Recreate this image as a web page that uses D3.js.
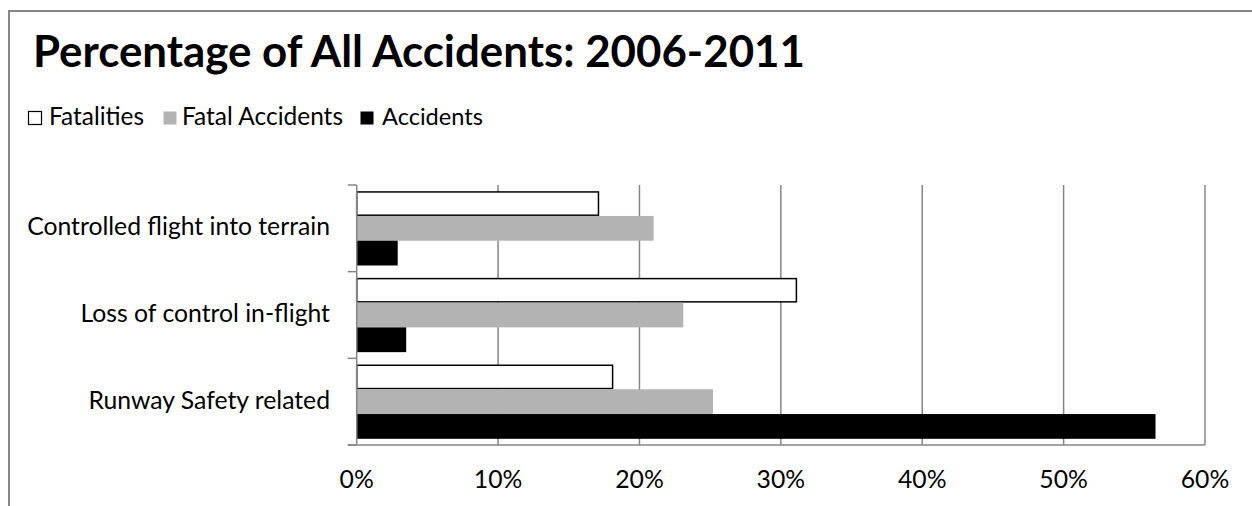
<!DOCTYPE html>
<html>
<head>
<meta charset="utf-8">
<script src="https://cdn.jsdelivr.net/npm/d3@7"></script>
<style>
  html, body { margin: 0; padding: 0; background: #fff; }
  svg { display: block; }
  text { font-family: Lato, "Open Sans", sans-serif; fill: #000; }
</style>
</head>
<body>
<svg id="chart" width="1252" height="506"></svg>
<script>
// Accident categories, top to bottom
const categories = ["Controlled flight into terrain", "Loss of control in-flight", "Runway Safety related"];
// Series names, drawn top to bottom inside each category
const seriesNames = ["Fatalities", "Fatal Accidents", "Accidents"];
// Percentages per category, one array per series
const fatalities     = [17.1, 31.1, 18.1];
const fatalAccidents = [21.0, 23.1, 25.2];
const accidents      = [2.9, 3.5, 56.5];
// X axis ticks (percent)
const xTicks = [0, 10, 20, 30, 40, 50, 60];

const seriesValues = [fatalities, fatalAccidents, accidents];
const fills   = ["#ffffff", "#b3b3b3", "#000000"];
const gridColor = "#868686";

const svg = d3.select("#chart");

// Adjusts a text element's font size until it spans the given width
function fitWidth(sel, width) {
  sel.each(function() {
    const node = this;
    let size = parseFloat(d3.select(node).style("font-size"));
    for (let i = 0; i < 3; i++) {
      const w = node.getComputedTextLength();
      if (w > 0) size = size * width / w;
      d3.select(node).style("font-size", size + "px");
    }
  });
}

// Outer chart border (top and left edges visible)
svg.append("path")
  .attr("d", "M9,506 V11 H1252")
  .attr("fill", "none")
  .attr("stroke", gridColor)
  .attr("stroke-width", 2);

// Title
svg.append("text")
  .attr("x", 33).attr("y", 67)
  .style("font-size", "40px").style("font-weight", "bold")
  .text("Percentage of All Accidents: 2006-2011")
  .call(fitWidth, 772);

// Legend
const legendItems = [
  { x: 28, tx: 49, w: 95 },
  { x: 163, tx: 182, w: 161 },
  { x: 360, tx: 382, w: 101 }
];
seriesNames.forEach((name, i) => {
  const it = legendItems[i];
  svg.append("rect")
    .attr("x", it.x + 0.5).attr("y", 111.5)
    .attr("width", 13).attr("height", 13)
    .attr("fill", fills[i])
    .attr("stroke", i === 0 ? "#000" : "none")
    .attr("stroke-width", 1.2);
  svg.append("text")
    .attr("x", it.tx).attr("y", 125)
    .style("font-size", "19px")
    .text(name)
    .call(fitWidth, it.w);
});

// Plot area
const plotLeft = 356.7, plotRight = 1205, plotTop = 185, plotBottom = 445;

const x = d3.scaleLinear().domain([0, 60]).range([plotLeft, plotRight]);
const y = d3.scaleBand().domain(categories).range([plotTop, plotBottom]).paddingInner(0).paddingOuter(0);
const inner = d3.scaleBand().domain(d3.range(seriesNames.length))
  .range([0, y.bandwidth()]).paddingInner(0).paddingOuter(0.25);

// Vertical gridlines
svg.append("g")
  .selectAll("line")
  .data(xTicks.filter(t => t > 0))
  .join("line")
  .attr("x1", d => x(d)).attr("x2", d => x(d))
  .attr("y1", plotTop).attr("y2", plotBottom)
  .attr("stroke", gridColor).attr("stroke-width", 1.5);

// Bars
const barGroup = svg.append("g");
categories.forEach((cat, ci) => {
  seriesValues.forEach((vals, si) => {
    const y0 = y(cat) + inner(si);
    const h = inner.bandwidth();
    if (si === 0) {
      barGroup.append("rect")
        .attr("x", x(0)).attr("y", y0 + 0.75)
        .attr("width", x(vals[ci]) - x(0)).attr("height", h - 1.5)
        .attr("fill", fills[si]).attr("stroke", "#000").attr("stroke-width", 1.5);
    } else {
      barGroup.append("rect")
        .attr("x", x(0)).attr("y", y0)
        .attr("width", x(vals[ci]) - x(0)).attr("height", h)
        .attr("fill", fills[si]);
    }
  });
});

// Y axis line with ticks at category boundaries
svg.append("line")
  .attr("x1", plotLeft).attr("x2", plotLeft).attr("y1", plotTop).attr("y2", plotBottom)
  .attr("stroke", gridColor).attr("stroke-width", 1.5);
const bounds = categories.map(c => y(c)).concat([plotBottom]);
svg.append("g").selectAll("line").data(bounds).join("line")
  .attr("x1", plotLeft - 9).attr("x2", plotLeft)
  .attr("y1", d => d).attr("y2", d => d)
  .attr("stroke", gridColor).attr("stroke-width", 1.5);

// X axis baseline
svg.append("line")
  .attr("x1", plotLeft - 9).attr("x2", plotRight).attr("y1", plotBottom).attr("y2", plotBottom)
  .attr("stroke", gridColor).attr("stroke-width", 1.5);

// Category labels
const catLabels = svg.append("g").selectAll("text").data(categories).join("text")
  .attr("x", 330).attr("y", d => y(d) + y.bandwidth() / 2 + 7)
  .attr("text-anchor", "end")
  .style("font-size", "20px")
  .text(d => d);
fitWidth(catLabels.filter((d, i) => i === 0), 303);
const labelSize = catLabels.filter((d, i) => i === 0).style("font-size");
catLabels.style("font-size", labelSize);

// X tick labels
svg.append("g").selectAll("text").data(xTicks).join("text")
  .attr("x", d => x(d)).attr("y", 488)
  .attr("text-anchor", "middle")
  .style("font-size", labelSize)
  .text(d => d + "%");
</script>
</body>
</html>
